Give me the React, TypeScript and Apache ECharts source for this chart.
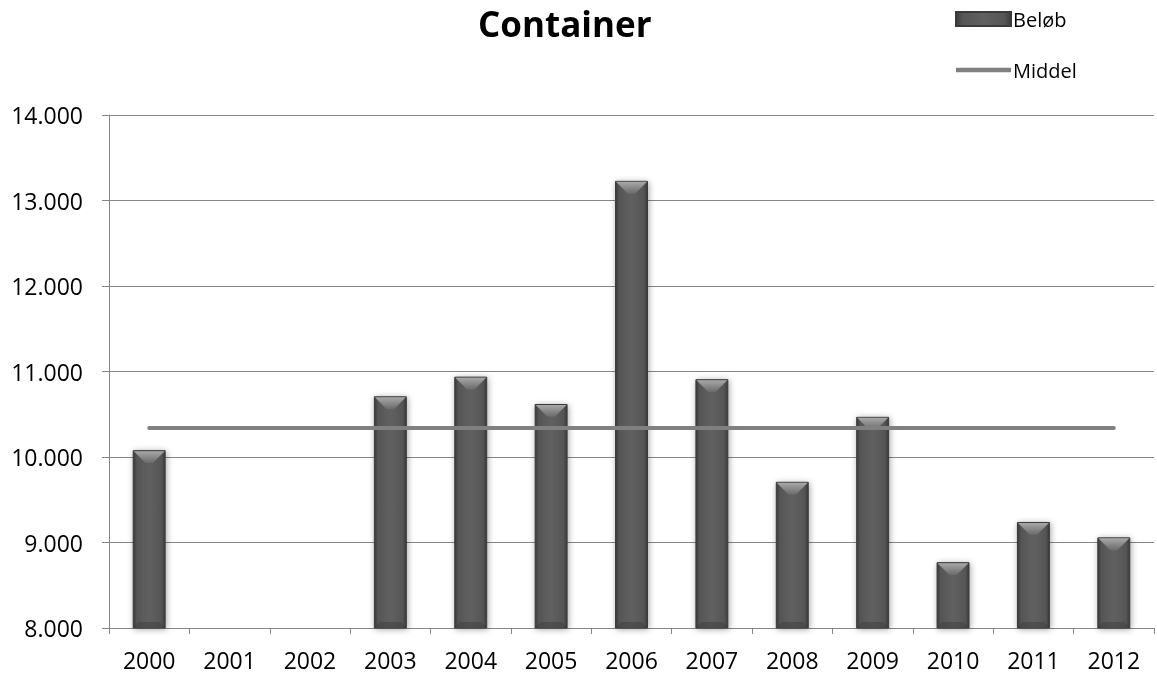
import React, { useEffect, useRef } from "react";
import * as echarts from "echarts";

const years = ["2000", "2001", "2002", "2003", "2004", "2005", "2006", "2007", "2008", "2009", "2010", "2011", "2012"];
const belob: (number | null)[] = [10080, null, null, 10710, 10940, 10620, 13230, 10910, 9710, 10470, 8770, 9240, 9060];
const middel: number[] = [10340, 10340, 10340, 10340, 10340, 10340, 10340, 10340, 10340, 10340, 10340, 10340, 10340];
const yTicks = { min: 8000, max: 14000, interval: 1000 };

const FONT = "'Open Sans', 'Noto Sans', sans-serif";
const BAR_RATIO = 0.41;

export default function App() {
  const ref = useRef<HTMLDivElement>(null);
  useEffect(() => {
    if (!ref.current) return;
    const chart = echarts.init(ref.current, null, { renderer: "svg" });
    const barFill = new echarts.graphic.LinearGradient(0, 0, 1, 0, [
      { offset: 0, color: "#3a3a3a" },
      { offset: 0.12, color: "#565656" },
      { offset: 0.5, color: "#606060" },
      { offset: 0.88, color: "#565656" },
      { offset: 1, color: "#3a3a3a" },
    ]);
    const bevelData = belob
      .map((v, i) => (v === null ? null : [i, v]))
      .filter((d) => d !== null);
    chart.setOption({
      animation: false,
      title: {
        text: "Container",
        left: 478,
        top: 3,
        padding: [0, 0, 0, 0],
        textStyle: { fontFamily: FONT, fontSize: 35, fontWeight: "bold", color: "#000", lineHeight: 40 },
      },
      legend: {
        orient: "vertical",
        left: 955,
        top: 9,
        padding: 0,
        itemGap: 31,
        itemWidth: 55,
        itemHeight: 14,
        textStyle: { fontFamily: FONT, fontSize: 20, color: "#000", padding: [0, 0, 0, -3] },
        data: [
          { name: "Beløb", icon: "rect" },
          { name: "Middel", icon: "path://M0,0 L110,0 L110,9 L0,9 Z", itemStyle: { color: "#808080" } },
        ],
      },
      grid: { left: 109, right: 3, top: 115, bottom: 54, containLabel: false },
      xAxis: {
        type: "category",
        data: years,
        axisLine: { lineStyle: { color: "#868686", width: 1 } },
        axisTick: { show: true, length: 6, lineStyle: { color: "#868686" } },
        axisLabel: { fontFamily: FONT, fontSize: 23, color: "#000", margin: 20 },
      },
      yAxis: {
        type: "value",
        min: yTicks.min,
        max: yTicks.max,
        interval: yTicks.interval,
        axisLine: { show: true, lineStyle: { color: "#868686", width: 1 } },
        axisTick: { show: true, length: 7, inside: false, lineStyle: { color: "#868686" } },
        splitLine: { show: true, lineStyle: { color: "#868686", width: 1 } },
        axisLabel: {
          fontFamily: FONT,
          fontSize: 23,
          color: "#000",
          margin: 26,
          formatter: (v: number) => v.toLocaleString("da-DK").replace(/\s/g, "."),
        },
      },
      series: [
        {
          name: "Beløb",
          type: "bar",
          data: belob.map((v) => (v === null ? "-" : v)),
          barWidth: BAR_RATIO * 100 + "%",
          itemStyle: {
            color: barFill,
            borderColor: "#3a3a3a",
            borderWidth: 1,
            shadowColor: "rgba(0,0,0,0.35)",
            shadowBlur: 6,
            shadowOffsetX: 1,
            shadowOffsetY: 1,
          },
        },
        {
          name: "bevel",
          type: "custom",
          silent: true,
          z: 4,
          clip: false,
          encode: { x: 0, y: 1 },
          data: bevelData,
          renderItem: (params: any, api: any) => {
            const idx = api.value(0);
            const v = api.value(1);
            const top = api.coord([idx, v]);
            const bottom = api.coord([idx, yTicks.min]);
            const band = api.size([1, 0])[0];
            const w = band * BAR_RATIO;
            const x0 = top[0] - w / 2 + 1;
            const x1 = top[0] + w / 2 - 1;
            const y = top[1] + 1;
            const d = w * 0.36;
            const yb = bottom[1] - 1;
            const db = w * 0.15;
            return {
              type: "group",
              children: [
                {
                  type: "polygon",
                  shape: { points: [[x0, y], [x1, y], [x1 - d, y + d], [x0 + d, y + d]] },
                  style: {
                    fill: new echarts.graphic.LinearGradient(0, 0, 0, 1, [
                      { offset: 0, color: "#a8a8a8" },
                      { offset: 1, color: "#6a6a6a" },
                    ]),
                  },
                },
                {
                  type: "polygon",
                  shape: { points: [[x0, yb], [x1, yb], [x1 - db, yb - db], [x0 + db, yb - db]] },
                  style: { fill: "#3e3e3e", opacity: 0.5 },
                },
              ],
            };
          },
        },
        {
          name: "Middel",
          type: "line",
          data: middel,
          symbol: "none",
          z: 5,
          lineStyle: { color: "#808080", width: 4, cap: "round" },
          itemStyle: { color: "#808080" },
        },
      ],
    });
    return () => chart.dispose();
  }, []);
  return <div ref={ref} style={{ position: "fixed", left: 0, top: 0, width: 1157, height: 682 }} />;
}
